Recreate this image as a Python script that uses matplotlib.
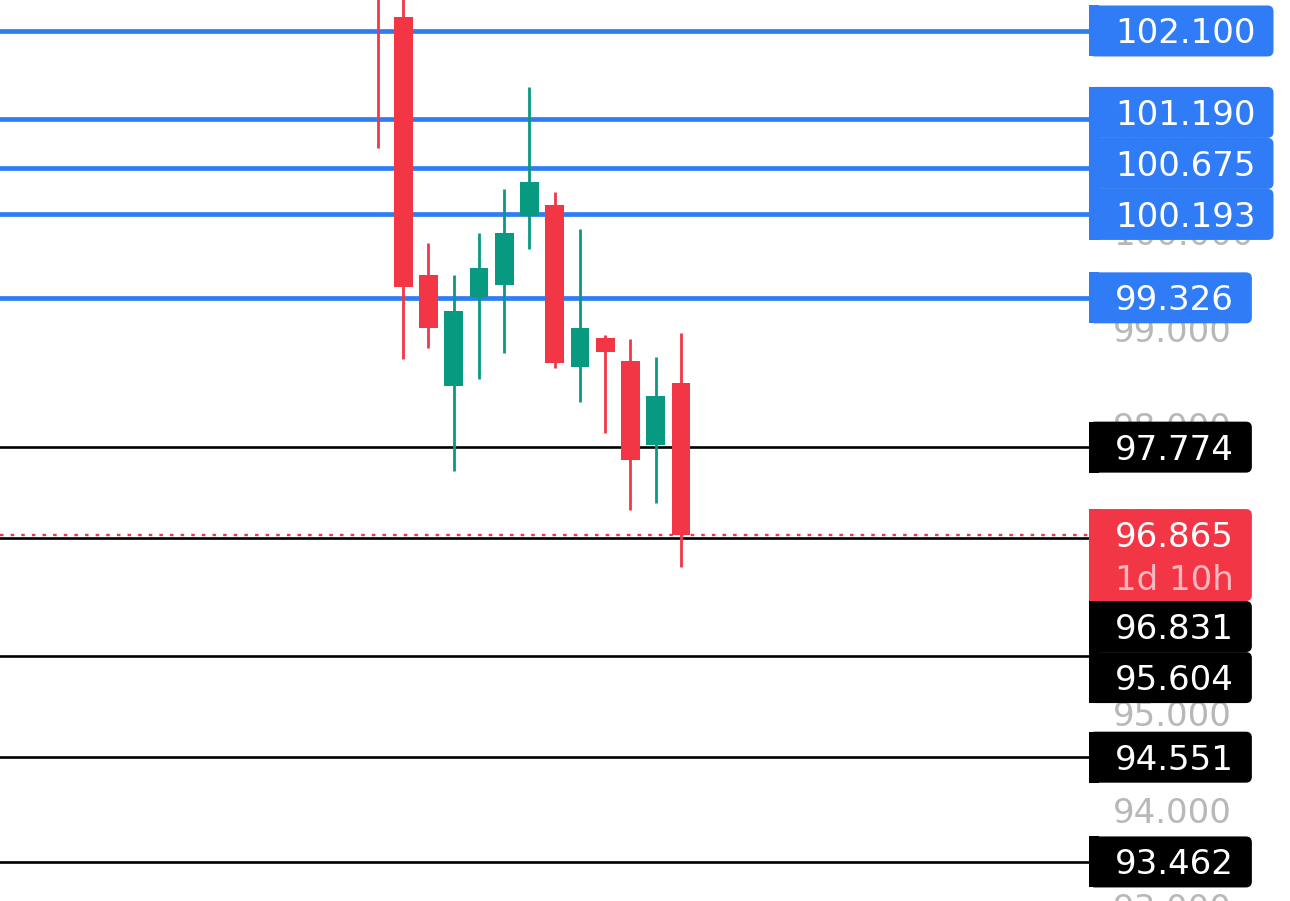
import matplotlib
matplotlib.use("Agg")
import matplotlib.pyplot as plt
from matplotlib.patches import FancyBboxPatch, Rectangle

# ---- data ----
opens  = [103.60, 102.245, 99.564, 98.410, 99.335, 99.460, 100.177, 100.291, 98.607, 98.909, 98.670, 97.796, 98.441]
highs  = [104.00, 102.800, 99.896, 99.564, 100.000, 100.458, 101.518, 100.426, 100.042, 98.940, 98.898, 98.711, 98.960]
lows   = [100.88, 98.690, 98.805, 97.526, 98.483, 98.753, 99.834, 98.597, 98.243, 97.921, 97.121, 97.194, 96.528]
closes = [102.70, 99.439, 99.013, 99.190, 99.636, 100.000, 100.530, 98.649, 99.013, 98.763, 97.640, 98.306, 96.865]

blue_levels = [102.100, 101.190, 100.675, 100.193, 99.326]
black_levels = [97.774, 96.831, 95.604, 94.551, 93.462]
last_price = 96.865
countdown = "1d 10h"
tick_values = [93, 94, 95, 96, 97, 98, 99, 100, 101, 102]

RED = "#F23645"
GREEN = "#089981"
BLUE = "#2F7CF6"
GRAY = "#B8B8B8"

W, H = 1290, 901
fig = plt.figure(figsize=(W / 100, H / 100), dpi=100)
fig.patch.set_facecolor("white")

ax = fig.add_axes([0, 0, 1089 / W, 1])
ax.set_xlim(-14.97, 28.16)
ax.set_ylim(93.056, 102.422)
ax.axis("off")

# horizontal levels
for v in blue_levels:
    ax.axhline(v, color=BLUE, lw=3.4, zorder=1)
for v in black_levels:
    ax.axhline(v, color="black", lw=1.9, zorder=1)
ax.axhline(last_price, color=RED, lw=1.7, ls=(0, (1.5, 3)), zorder=1.5)

# candles
xs = list(range(len(opens)))
for x, o, h, l, c in zip(xs, opens, highs, lows, closes):
    col = GREEN if c >= o else RED
    ax.vlines(x, l, h, color=col, lw=2.0, zorder=3)
    ax.bar(x, abs(c - o), bottom=min(o, c), width=0.75, color=col, zorder=4, linewidth=0)

# overlay axes in pixel coordinates
ov = fig.add_axes([0, 0, 1, 1])
ov.set_xlim(0, W)
ov.set_ylim(H, 0)
ov.axis("off")
ov.patch.set_alpha(0)

def ypx(v):
    return H - ax.transData.transform((0, v))[1]

FS = 24.5
CAP = 12.4
BOX_H = 51
LEFT = 1089
TXT_X = 1115
renderer = fig.canvas.get_renderer()

# y tick labels (behind boxes)
for t in tick_values:
    ov.text(TXT_X - 2, ypx(t) + CAP, f"{t:.3f}", color=GRAY, fontsize=FS,
            ha="left", va="baseline", zorder=1, family="DejaVu Sans")

def draw_box(top, height, color, lines, zorder):
    texts = []
    for (s, dy, tc) in lines:
        t = ov.text(TXT_X, top + dy + CAP, s, color=tc, fontsize=FS, ha="left",
                    va="baseline", zorder=zorder + 0.5, family="DejaVu Sans")
        texts.append(t)
    wmax = max(t.get_window_extent(renderer).width for t in texts)
    right = TXT_X + wmax + 18
    ov.add_patch(FancyBboxPatch((LEFT, top), right - LEFT, height,
                                boxstyle="round,pad=0,rounding_size=6",
                                fc=color, ec="none", zorder=zorder))
    ov.add_patch(Rectangle((LEFT, top), 10, height, fc=color, ec="none", zorder=zorder))

# price label
py = ypx(last_price)
red_top = py - BOX_H / 2
red_h = 92

# labels above price: resolve upward
above = sorted([(v, BLUE) for v in blue_levels] + [(v, "black") for v in black_levels if v > last_price],
               key=lambda a: -a[0])
cent = [ypx(v) for v, _ in above]
limit = red_top
for i in range(len(cent) - 1, -1, -1):
    cent[i] = min(cent[i], limit - BOX_H / 2)
    limit = cent[i] - BOX_H / 2
for (v, col), c in zip(above, cent):
    draw_box(c - BOX_H / 2, BOX_H, col, [(f"{v:.3f}", BOX_H / 2, "white")], zorder=5 + ypx(v) / 1000)

# labels below price: resolve downward
below = sorted([(v, "black") for v in black_levels if v <= last_price], key=lambda a: -a[0])
cent = [ypx(v) for v, _ in below]
limit = red_top + red_h
for i in range(len(cent)):
    cent[i] = max(cent[i], limit + BOX_H / 2)
    limit = cent[i] + BOX_H / 2
for (v, col), c in zip(below, cent):
    draw_box(c - BOX_H / 2, BOX_H, col, [(f"{v:.3f}", BOX_H / 2, "white")], zorder=5 + ypx(v) / 1000)

draw_box(red_top, red_h, RED, [(f"{last_price:.3f}", BOX_H / 2, "white"),
                               (countdown, BOX_H / 2 + 43, "#F9B7BE")], zorder=8)

fig.savefig("out.png", dpi=100, facecolor="white")
